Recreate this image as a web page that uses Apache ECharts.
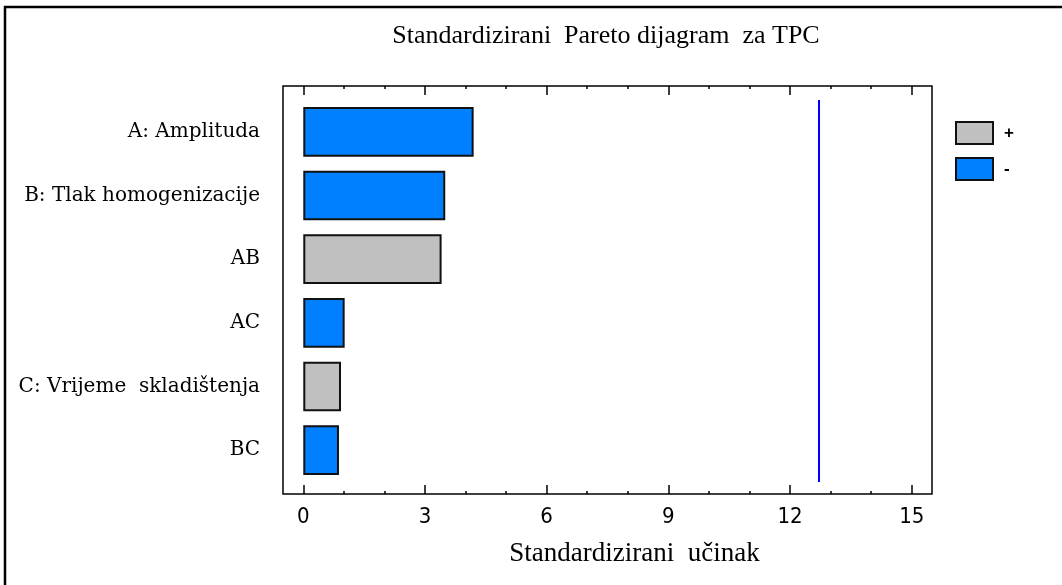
<!DOCTYPE html>
<html>
<head>
<meta charset="utf-8">
<script src="https://cdn.jsdelivr.net/npm/echarts@6/dist/echarts.min.js"></script>
<style>
html, body { margin: 0; padding: 0; background: #fff; }
#main { width: 1062px; height: 585px; }
</style>
</head>
<body>
<div id="main"></div>
<script>
// kategorije (odozgo prema dolje)
const categories = ['A: Amplituda', 'B: Tlak homogenizacije', 'AB', 'AC', 'C: Vrijeme  skladištenja', 'BC']
// standardizirani ucinci, + i - serija
const plusValues = ['-', '-', 3.41, '-', 0.93, '-']
const minusValues = [4.2, 3.5, '-', 1.02, '-', 0.88]
const critValue = 12.706
const majorTicks = [0, 3, 6, 9, 12, 15]
const minorTicks = [1, 2, 4, 5, 7, 8, 10, 11, 13, 14]

const serif = '"Liberation Serif", "Times New Roman", serif'
const narrow = '"Liberation Sans Narrow", "DejaVu Sans Condensed", sans-serif'

function tickAxis(pos, values, len, labels) {
    return {
        type: 'value',
        gridIndex: 0,
        position: pos,
        min: -0.5,
        max: 15.5,
        axisLine: { show: false },
        splitLine: { show: false },
        axisTick: { show: true, inside: true, length: len, customValues: values,
            lineStyle: { color: '#000', width: 1.5 } },
        axisLabel: labels ? {
            show: true, customValues: values, margin: 12,
            color: '#000', fontFamily: narrow, fontSize: 22
        } : { show: false }
    }
}

const myEcharts = echarts.init(document.getElementById('main'))

const option = {
    backgroundColor: '#fff',
    animation: false,
    title: {
        text: 'Standardizirani  Pareto dijagram  za TPC',
        left: 601,
        top: 18,
        textAlign: 'center',
        textStyle: { fontFamily: serif, fontWeight: 'normal', fontSize: 26, color: '#000' }
    },
    legend: {
        data: ['+', '-'],
        orient: 'vertical',
        left: 955,
        top: 121,
        padding: 0,
        itemWidth: 37,
        itemHeight: 22,
        itemGap: 12,
        icon: 'rect',
        textStyle: { fontFamily: '"Liberation Sans", Arial, sans-serif', fontSize: 17, fontWeight: 'bold',
            color: '#000', padding: [0, 0, 0, 6] }
    },
    graphic: [{
        type: 'rect',
        shape: { x: 5, y: 7, width: 1100, height: 700 },
        style: { fill: 'none', stroke: '#000', lineWidth: 2.5 },
        silent: true
    }],
    grid: [
        { left: 283, top: 86, width: 649, height: 408, show: true,
          borderColor: '#000', borderWidth: 1.5, backgroundColor: 'transparent' },
        { left: 283, top: 100, width: 649, height: 382 }
    ],
    xAxis: [
        Object.assign(tickAxis('bottom', majorTicks, 9, true), {
            name: 'Standardizirani  učinak',
            nameLocation: 'middle',
            nameGap: 46,
            nameTextStyle: { fontFamily: serif, fontSize: 27, color: '#000', padding: [0, 0, 0, 54] }
        }),
        tickAxis('bottom', minorTicks, 3, false),
        tickAxis('top', majorTicks, 9, false),
        tickAxis('top', minorTicks, 3, false),
        { type: 'value', gridIndex: 1, min: -0.5, max: 15.5, show: false }
    ],
    yAxis: [
        { type: 'value', gridIndex: 0, show: false },
        {
            type: 'category',
            gridIndex: 1,
            inverse: true,
            data: categories,
            axisLine: { show: false },
            axisTick: { show: false },
            axisLabel: { margin: 23, color: '#000', fontFamily: '"DejaVu Serif", serif', fontSize: 20 }
        }
    ],
    series: [
        {
            name: '+',
            type: 'bar',
            xAxisIndex: 4,
            yAxisIndex: 1,
            data: plusValues,
            barCategoryGap: '22%',
            barGap: '-100%',
            itemStyle: { color: '#C0C0C0', borderColor: '#111', borderWidth: 2 }
        },
        {
            name: '-',
            type: 'bar',
            xAxisIndex: 4,
            yAxisIndex: 1,
            data: minusValues,
            barCategoryGap: '22%',
            barGap: '-100%',
            itemStyle: { color: '#0080FF', borderColor: '#111', borderWidth: 2 },
            markLine: {
                silent: true,
                symbol: 'none',
                label: { show: false },
                lineStyle: { color: '#0000FF', width: 2, type: 'solid' },
                data: [{ xAxis: critValue }]
            }
        }
    ]
}

myEcharts.setOption(option)
window.addEventListener('resize', () => {
    myEcharts.resize()
})
</script>
</body>
</html>
